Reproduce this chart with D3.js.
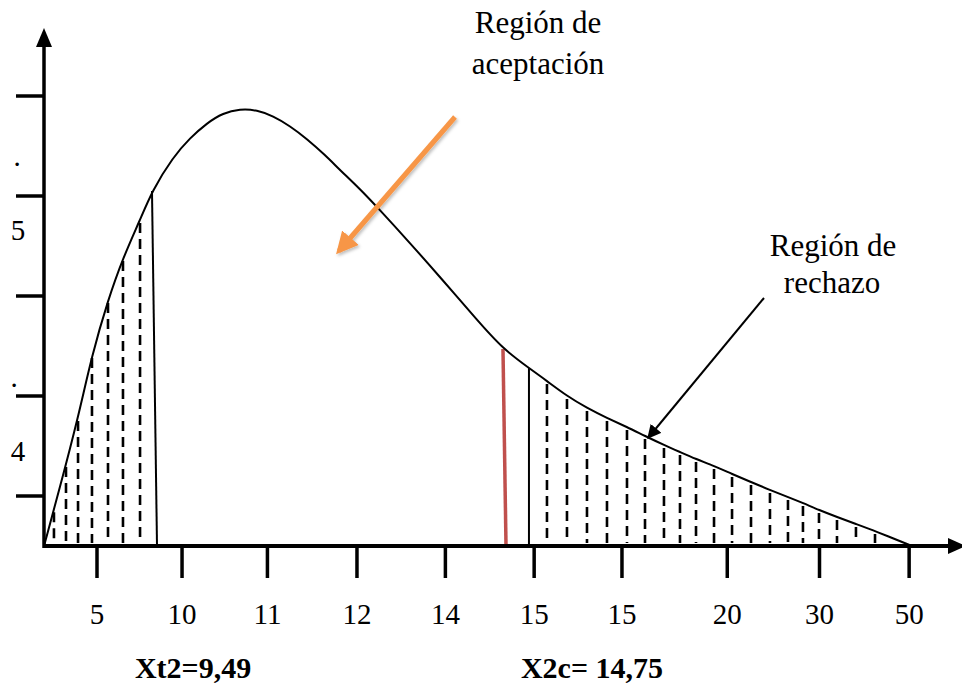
<!DOCTYPE html>
<html>
<head>
<meta charset="utf-8">
<script src="https://cdn.jsdelivr.net/npm/d3@7"></script>
<style>
  body { margin: 0; background: #fff; }
  svg { display: block; }
  svg text { font-family: 'Liberation Serif', 'Times New Roman', serif; }
</style>
</head>
<body>
<div class="container"></div>
<script>
// curve (x in axis units 0..100, y in units 0..10)
const curveX = [0, 1.85, 3.93, 5.54, 7.39, 9.12, 11.09, 12.47, 14.9, 16.86, 18.82, 20.67, 22.63, 24.6, 26.44, 28.41, 30.37, 32.45, 34.18, 36.49, 38.57, 42.26, 45.73, 50.0, 53.0, 56.0, 58.08, 60.39, 62.7, 65.01, 67.32, 69.4, 71.59, 73.44, 75.29, 77.37, 79.45, 81.64, 83.83, 85.91, 87.64, 89.49, 91.57, 93.76, 95.96, 100.23];
const curveY = [0, 1.18, 2.56, 3.82, 4.92, 5.76, 6.52, 7.10, 7.78, 8.16, 8.46, 8.66, 8.74, 8.72, 8.60, 8.40, 8.14, 7.82, 7.52, 7.14, 6.76, 6.06, 5.38, 4.52, 3.94, 3.56, 3.30, 3.00, 2.76, 2.56, 2.38, 2.20, 2.02, 1.88, 1.74, 1.60, 1.44, 1.28, 1.12, 0.98, 0.86, 0.72, 0.58, 0.44, 0.30, 0];

// dashed hatching
const leftHatch = [1.15, 2.54, 3.93, 5.54, 7.39, 9.12, 11.09];
const rightHatch = [58.08, 60.39, 62.7, 65.01, 67.32, 69.4, 71.59, 73.44, 75.29, 77.37, 79.45, 81.64, 83.83, 85.91, 87.64, 89.49, 91.57, 93.76, 95.96];

// x axis
const xTickPos = [6.12, 15.94, 25.8, 36.14, 46.35, 56.6, 66.74, 78.9, 89.55, 99.9];
const xTickLabels = ["5", "10", "11", "12", "14", "15", "15", "20", "30", "50"];

// y axis
const yTickPos = [9, 7, 5, 3, 1];
const yLabelPos = [7.6, 6.12, 3.18, 1.7];
const yLabels = [".", "5", ".", "4"];

// boundaries
const critLeft = [[12.47, 7.10], [13.05, 0]];
const critRed = [[53.0, 3.94], [53.35, 0]];
const critRight = [[56.0, 3.56], [56.0, 0]];

const width = 962;
const height = 686;

const x = d3.scaleLinear().domain([0, 100]).range([44, 910]);
const y = d3.scaleLinear().domain([0, 10]).range([546, 46]);

const curve = curveX.map((d, i) => [d, curveY[i]]);
const bis = d3.bisector((d) => d[0]).left;
function curveAt(v) {
  const i = Math.max(1, Math.min(curve.length - 1, bis(curve, v)));
  const a = curve[i - 1], b = curve[i];
  const t = (v - a[0]) / (b[0] - a[0]);
  return a[1] + t * (b[1] - a[1]);
}

const svg = d3.select(".container").append("svg")
  .attr("width", width)
  .attr("height", height);

const defs = svg.append("defs");
defs.append("marker")
  .attr("id", "arrBlack")
  .attr("viewBox", "0 0 10 10")
  .attr("refX", 9).attr("refY", 5)
  .attr("markerWidth", 7).attr("markerHeight", 7)
  .attr("markerUnits", "strokeWidth")
  .attr("orient", "auto")
  .append("path").attr("d", "M0,0L10,5L0,10Z").attr("fill", "#000");
defs.append("marker")
  .attr("id", "arrOrange")
  .attr("viewBox", "0 0 10 10")
  .attr("refX", 8).attr("refY", 5)
  .attr("markerWidth", 4.4).attr("markerHeight", 4.4)
  .attr("markerUnits", "strokeWidth")
  .attr("orient", "auto")
  .append("path").attr("d", "M0,0L10,5L0,10Z").attr("fill", "#f79646");
const sh = defs.append("filter").attr("id", "shadow")
  .attr("x", "-20%").attr("y", "-20%").attr("width", "140%").attr("height", "140%");
sh.append("feDropShadow")
  .attr("dx", 1.5).attr("dy", 2).attr("stdDeviation", 1.5)
  .attr("flood-color", "#000").attr("flood-opacity", 0.25);

//hatching
svg.append("g")
  .selectAll("line")
  .data(leftHatch.concat(rightHatch))
  .join("line")
  .attr("x1", (d) => x(d)).attr("x2", (d) => x(d))
  .attr("y1", (d) => y(curveAt(d)) + 3)
  .attr("y2", y(0) - 3)
  .attr("stroke", "#000")
  .attr("stroke-width", 2.6)
  .attr("stroke-dasharray", "10,6");

//boundary lines
const seg = d3.line().x((d) => x(d[0])).y((d) => y(d[1]));
svg.append("path").attr("d", seg(critLeft)).attr("stroke", "#000").attr("stroke-width", 2).attr("fill", "none");
svg.append("path").attr("d", seg(critRight)).attr("stroke", "#000").attr("stroke-width", 2).attr("fill", "none");
svg.append("path").attr("d", seg(critRed)).attr("stroke", "#c0504d").attr("stroke-width", 3.5).attr("fill", "none");

//curve
svg.append("path")
  .attr("d", d3.line().x((d) => x(d[0])).y((d) => y(d[1])).curve(d3.curveBasis)(curve))
  .attr("fill", "none")
  .attr("stroke", "#000")
  .attr("stroke-width", 2);

//axes
svg.append("line")
  .attr("x1", x(0)).attr("x2", 950)
  .attr("y1", y(0)).attr("y2", y(0))
  .attr("stroke", "#000").attr("stroke-width", 3.8);
svg.append("path")
  .attr("d", `M948,${y(0) - 8}L966,${y(0)}L948,${y(0) + 8}Z`)
  .attr("fill", "#000");
svg.append("line")
  .attr("x1", x(0)).attr("x2", x(0))
  .attr("y1", y(0) + 1.9).attr("y2", 44)
  .attr("stroke", "#000").attr("stroke-width", 3.5);
svg.append("path")
  .attr("d", `M${x(0) - 8},47L${x(0)},28L${x(0) + 8},47Z`)
  .attr("fill", "#000");

svg.append("g")
  .selectAll("line")
  .data(xTickPos)
  .join("line")
  .attr("x1", (d) => x(d)).attr("x2", (d) => x(d))
  .attr("y1", y(0)).attr("y2", 578)
  .attr("stroke", "#000").attr("stroke-width", 3.5);

svg.append("g")
  .selectAll("text")
  .data(xTickLabels)
  .join("text")
  .attr("x", (d, i) => x(xTickPos[i]))
  .attr("y", 624)
  .attr("text-anchor", "middle")
  .attr("font-size", 29)
  .text((d) => d);

svg.append("g")
  .selectAll("line")
  .data(yTickPos)
  .join("line")
  .attr("x1", 16).attr("x2", x(0))
  .attr("y1", (d) => y(d)).attr("y2", (d) => y(d))
  .attr("stroke", "#000").attr("stroke-width", 3.5);

svg.append("g")
  .selectAll("text")
  .data(yLabels)
  .join("text")
  .attr("x", (d, i) => (d === "." ? (i === 0 ? 17 : 14) : 18))
  .attr("y", (d, i) => y(yLabelPos[i]))
  .attr("text-anchor", "middle")
  .attr("font-size", 29)
  .text((d) => d);

//annotations
svg.append("path")
  .attr("d", seg([[47.46, 8.58], [34.06, 5.9]]))
  .attr("stroke", "#f79646").attr("stroke-width", 5).attr("fill", "none")
  .attr("marker-end", "url(#arrOrange)")
  .attr("filter", "url(#shadow)");
svg.append("path")
  .attr("d", seg([[83.14, 4.96], [69.75, 2.16]]))
  .attr("stroke", "#000").attr("stroke-width", 2).attr("fill", "none")
  .attr("marker-end", "url(#arrBlack)");

const notes = [
  { t: "Región de", cx: 538, by: 33, bold: false },
  { t: "aceptación", cx: 538, by: 74, bold: false },
  { t: "Región de", cx: 833, by: 256, bold: false },
  { t: "rechazo", cx: 832, by: 293, bold: false },
  { t: "Xt2=9,49", cx: 193, by: 678, bold: true },
  { t: "X2c= 14,75", cx: 592, by: 678, bold: true },
];
svg.append("g")
  .selectAll("text")
  .data(notes)
  .join("text")
  .attr("x", (d) => d.cx)
  .attr("y", (d) => d.by)
  .attr("text-anchor", "middle")
  .attr("font-size", (d) => (d.bold ? 30 : 31))
  .attr("font-weight", (d) => (d.bold ? "bold" : "normal"))
  .text((d) => d.t);
</script>
</body>
</html>
